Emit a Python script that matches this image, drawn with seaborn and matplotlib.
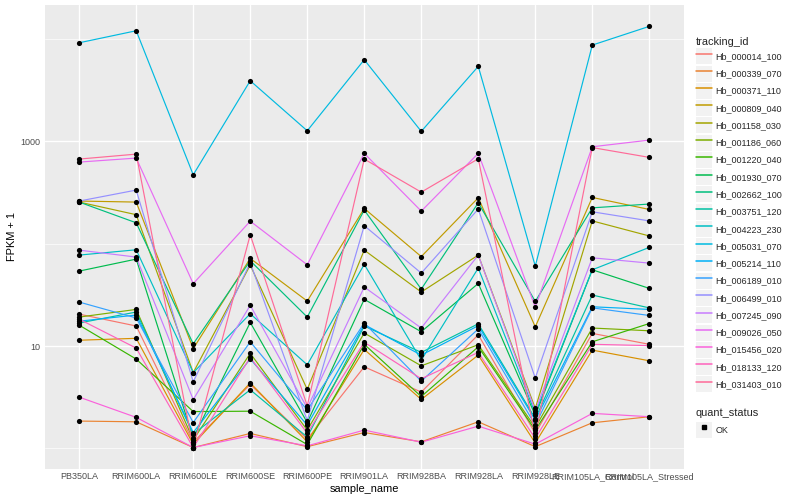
import numpy as np
import pandas as pd
import matplotlib
matplotlib.use("Agg")
import matplotlib.pyplot as plt
from matplotlib.lines import Line2D
from matplotlib.patches import Rectangle
from matplotlib.legend_handler import HandlerTuple
import seaborn as sns

# ── DATA (FPKM + 1) ─────────────────────────────────────────────────────────
samples = ["PB350LA", "RRIM600LA", "RRIM600LE", "RRIM600SE", "RRIM600PE",
           "RRIM901LA", "RRIM928BA", "RRIM928LA", "RRIM928LE",
           "RRIM105LA_Control", "RRIM105LA_Stressed"]

tracking_ids = ["Hb_000014_100", "Hb_000339_070", "Hb_000371_110", "Hb_000809_040",
                "Hb_001158_030", "Hb_001186_060", "Hb_001220_040", "Hb_001930_070",
                "Hb_002662_100", "Hb_003751_120", "Hb_004223_230", "Hb_005031_070",
                "Hb_005214_110", "Hb_006189_010", "Hb_006499_010", "Hb_007245_090",
                "Hb_009026_050", "Hb_015456_020", "Hb_018133_120", "Hb_031403_010"]

hb_000014_100 = [20.5, 15.7, 1.15, 4.22, 1.23, 6.27, 3.55, 12.9, 1.40, 13.3, 10.4]
hb_000339_070 = [1.85, 1.82, 1.02, 1.40, 1.04, 1.43, 1.16, 1.82, 1.04, 1.78, 2.04]
hb_000371_110 = [11.4, 11.9, 1.10, 4.37, 1.16, 9.27, 3.01, 8.16, 1.13, 9.13, 7.18]
hb_000809_040 = [261, 255, 9.44, 71.8, 27.5, 221, 74.8, 281, 15.4, 283, 216]
hb_001158_030 = [255, 192, 5.50, 61.8, 3.77, 86.5, 33.7, 77.4, 2.46, 167, 119]
hb_001186_060 = [19.2, 22.8, 1.21, 8.48, 1.51, 13.4, 6.41, 10.3, 1.60, 15.0, 14.1]
hb_001220_040 = [16.0, 7.46, 2.29, 2.31, 1.09, 10.4, 3.21, 9.84, 1.51, 11.0, 16.6]
hb_001930_070 = [54.0, 70.7, 1.26, 17.0, 1.79, 28.6, 13.8, 40.9, 2.10, 55.6, 36.6]
hb_002662_100 = [255, 160, 10.5, 68.1, 19.2, 213, 36.0, 251, 27.3, 224, 244]
hb_003751_120 = [16.8, 21.5, 1.38, 3.74, 1.29, 15.7, 8.67, 16.5, 1.96, 31.5, 23.6]
hb_004223_230 = [77.4, 87.2, 5.50, 20.7, 6.56, 62.8, 7.29, 57.8, 2.20, 55.6, 92.0]
hb_005031_070 = [9180, 12030, 471, 3907, 1268, 6266, 1251, 5397, 60.4, 8715, 13280]
hb_005214_110 = [17.5, 20.1, 1.43, 7.50, 1.69, 16.2, 8.16, 15.8, 1.89, 24.2, 22.8]
hb_006189_010 = [26.9, 18.8, 1.79, 11.0, 2.37, 16.8, 4.54, 14.7, 1.69, 23.6, 19.9]
hb_006499_010 = [261, 334, 4.47, 65.1, 1.87, 150, 51.6, 218, 4.86, 205, 167]
hb_007245_090 = [86.5, 74.0, 3.00, 25.0, 2.48, 37.7, 15.0, 77.4, 2.33, 72.8, 64.6]
hb_009026_050 = [627, 686, 40.7, 166, 62.2, 763, 208, 763, 24.0, 885, 1028]
hb_015456_020 = [3.17, 2.01, 1.02, 1.33, 1.06, 1.51, 1.15, 1.65, 1.10, 2.20, 2.04]
hb_018133_120 = [18.3, 9.55, 1.02, 7.74, 1.41, 10.9, 4.79, 8.67, 1.25, 10.4, 10.1]
hb_031403_010 = [671, 750, 1.02, 122, 2.61, 671, 319, 675, 1.32, 869, 697]

series = [hb_000014_100, hb_000339_070, hb_000371_110, hb_000809_040, hb_001158_030,
          hb_001186_060, hb_001220_040, hb_001930_070, hb_002662_100, hb_003751_120,
          hb_004223_230, hb_005031_070, hb_005214_110, hb_006189_010, hb_006499_010,
          hb_007245_090, hb_009026_050, hb_015456_020, hb_018133_120, hb_031403_010]

quant_status = "OK"

df = pd.DataFrame({
    "tracking_id": np.repeat(tracking_ids, len(samples)),
    "sample_name": samples * len(tracking_ids),
    "fpkm1": np.concatenate(series),
})
df["quant_status"] = quant_status


# ── ggplot-style hue palette (hcl, c=100, l=65) ─────────────────────────────
def gg_hue(n, c=100.0, l=65.0):
    hues = np.linspace(15, 375, n + 1)[:n]
    xn, yn, zn = 95.047, 100.0, 108.883
    un = 4 * xn / (xn + 15 * yn + 3 * zn)
    vn = 9 * yn / (xn + 15 * yn + 3 * zn)
    m = np.array([[3.2404542, -1.5371385, -0.4985314],
                  [-0.9692660, 1.8760108, 0.0415560],
                  [0.0556434, -0.2040259, 1.0572252]])
    out = []
    for h in hues:
        u = c * np.cos(np.radians(h))
        v = c * np.sin(np.radians(h))
        y = yn * ((l + 16) / 116) ** 3
        up = u / (13 * l) + un
        vp = v / (13 * l) + vn
        x = y * 9 * up / (4 * vp)
        z = y * (12 - 3 * up - 20 * vp) / (4 * vp)
        rgb = m @ (np.array([x, y, z]) / 100)
        rgb = np.where(rgb <= 0.0031308, 12.92 * rgb,
                       1.055 * np.clip(rgb, 0, None) ** (1 / 2.4) - 0.055)
        r, g, b = np.clip(rgb, 0, 1)
        out.append("#{:02X}{:02X}{:02X}".format(int(round(r * 255)), int(round(g * 255)), int(round(b * 255))))
    return out


colors = gg_hue(len(tracking_ids))

# ── STYLE ────────────────────────────────────────────────────────────────────
sns.set_theme()
plt.rcParams["font.family"] = ["Liberation Sans", "DejaVu Sans"]
plt.rcParams["axes.facecolor"] = "#EBEBEB"

fig = plt.figure(figsize=(8, 5), dpi=100)
ax = fig.add_axes([45 / 800, 1 - 468.6 / 500, (683.5 - 45) / 800, (468.6 - 5.3) / 500])

sns.lineplot(data=df, x="sample_name", y="fpkm1", hue="tracking_id",
             hue_order=tracking_ids, palette=colors, estimator=None,
             errorbar=None, sort=False, linewidth=0.85, legend=False, ax=ax)
sns.scatterplot(data=df, x="sample_name", y="fpkm1", color="black", s=14,
                linewidth=0, legend=False, ax=ax, zorder=5)

ax.set_yscale("log")
lo, hi = np.log10(df["fpkm1"].min()), np.log10(df["fpkm1"].max())
pad = 0.05 * (hi - lo)
ax.set_ylim(10 ** (lo - pad), 10 ** (hi + pad))
ax.set_xlim(-0.6, len(samples) - 0.4)

ax.set_yticks([10, 1000])
ax.set_yticklabels(["10", "1000"])
ax.set_yticks([1, 100, 10000], minor=True)
ax.yaxis.set_minor_formatter(plt.NullFormatter())

ax.grid(which="major", color="white", linewidth=1.0)
ax.grid(which="minor", axis="y", color="white", linewidth=0.5)
for s in ax.spines.values():
    s.set_visible(False)

ax.tick_params(axis="both", which="major", length=2.2, width=0.7, color="#333333",
               labelsize=6.5, labelcolor="#4D4D4D", pad=1.2)
ax.tick_params(axis="x", which="major", pad=0.3)
ax.tick_params(axis="y", which="minor", length=0)

ax.set_xlabel("sample_name", fontsize=7.9, color="black", labelpad=2)
ax.set_ylabel("FPKM + 1", fontsize=7.9, color="black", labelpad=2)

# ── LEGENDS ─────────────────────────────────────────────────────────────────
key_bg = "#F2F2F2"
handles = [(Rectangle((0, 0), 1, 1, facecolor=key_bg, edgecolor="none"),
            Line2D([], [], color=c, linewidth=1.1)) for c in colors]
leg1 = fig.legend(handles, tracking_ids, loc="upper left",
                  bbox_to_anchor=(696 / 800, 1 - 37 / 500), frameon=False,
                  title="tracking_id", title_fontsize=7.9, fontsize=6.5,
                  handlelength=1.72, handleheight=2.35, labelspacing=0.14,
                  handletextpad=0.45, borderpad=0, borderaxespad=0,
                  alignment="left", handler_map={tuple: HandlerTuple(ndivide=1)})

ok_handle = (Rectangle((0, 0), 1, 1, facecolor=key_bg, edgecolor="none"),
             Line2D([], [], color="black", marker="s", markersize=2.6, linestyle="none"))
leg2 = fig.legend([ok_handle], [quant_status], loc="upper left",
                  bbox_to_anchor=(696 / 800, 1 - 407.5 / 500), frameon=False,
                  title="quant_status", title_fontsize=7.9, fontsize=6.5,
                  handlelength=1.72, handleheight=2.35, handletextpad=0.45,
                  borderpad=0, borderaxespad=0, alignment="left",
                  handler_map={tuple: HandlerTuple(ndivide=1)})

fig.savefig("out.png", dpi=100)
